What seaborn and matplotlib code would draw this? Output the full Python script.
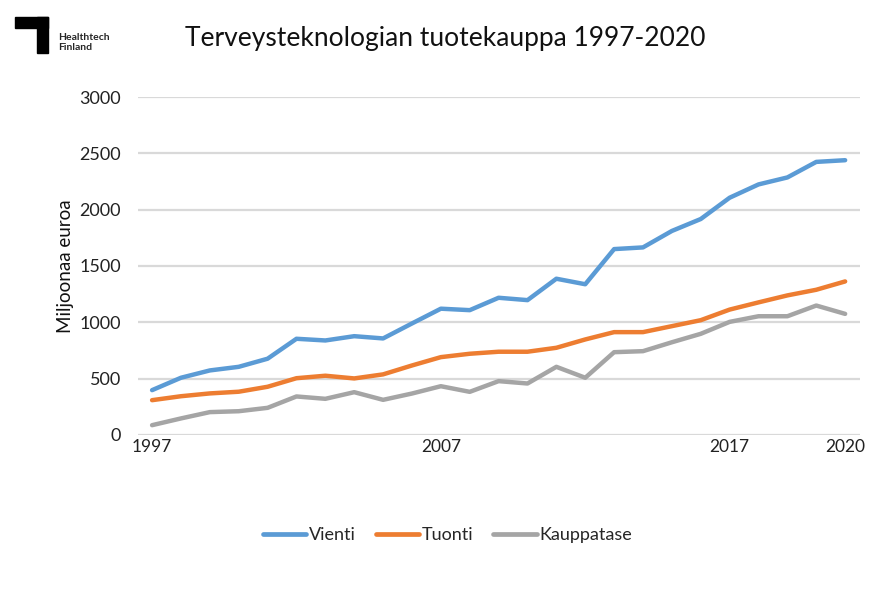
import matplotlib
matplotlib.use("Agg")
from matplotlib import pyplot as plt
from matplotlib import patches
import pandas as pd
import seaborn as sns

# values (million euros)
vuosi_idx = list(range(25))
vienti = [398, 508, 573, 605, 677, 854, 839, 877, 857, 990, 1121, 1108, 1218,
          1197, 1387, 1338, 1650, 1665, 1811, 1917, 2106, 2224, 2286, 2424, 2439]
tuonti = [309, 344, 369, 384, 428, 504, 526, 502, 538, 617, 691, 721, 739,
          739, 774, 848, 913, 913, 966, 1019, 1113, 1177, 1239, 1289, 1363]
kauppatase = [87, 147, 203, 211, 241, 342, 321, 380, 312, 368, 433, 383, 478,
              457, 605, 508, 735, 744, 823, 898, 1004, 1054, 1054, 1149, 1075]
tick_pos = [0, 10, 20, 24]
tick_labels = ['1997', '2007', '2017', '2020']
sarjat = ['Vienti', 'Tuonti', 'Kauppatase']
varit = ['#5B9BD5', '#ED7D31', '#A5A5A5']

df = pd.DataFrame({'x': vuosi_idx * 3,
                   'arvo': vienti + tuonti + kauppatase,
                   'sarja': [s for s in sarjat for _ in vuosi_idx]})

sns.set_style('white')
plt.rcParams['font.family'] = ['Lato', 'DejaVu Sans']

fig = plt.figure(figsize=(8.88, 5.94), dpi=100)
ax = fig.add_axes([0.155, 0.2677, 0.813, 0.569])

sns.lineplot(data=df, x='x', y='arvo', hue='sarja', hue_order=sarjat,
             palette=varit, linewidth=3.2, ax=ax, legend=False)

ax.set_xlim(-0.5, 24.5)
ax.set_ylim(0, 3000)
ax.set_yticks(range(0, 3001, 500))
ax.set_xticks(tick_pos)
ax.set_xticklabels(tick_labels)
ax.tick_params(axis='y', length=0, labelsize=13, colors='#222222', pad=12)
ax.tick_params(axis='x', length=0, labelsize=12.5, colors='#222222', pad=3)
ax.grid(axis='y', color='#D9D9D9', linewidth=1.6)
ax.set_axisbelow(True)
for s in ax.spines.values():
    s.set_visible(False)
ax.set_xlabel('')
ax.set_ylabel('Miljoonaa euroa', fontsize=13.5, color='#111111', labelpad=4)

# legend under the plot
handles = [plt.Line2D([], [], color=c, linewidth=3.4, solid_capstyle='round') for c in varit]
fig.legend(handles, sarjat, loc='center', bbox_to_anchor=(0.504, 0.099), ncol=3,
           frameon=False, fontsize=13, handlelength=2.4, handletextpad=0.15,
           columnspacing=1.1)

fig.text(0.208, 0.935, 'Terveysteknologian tuotekauppa 1997-2020', fontsize=19,
         ha='left', va='center', color='#111111')

# Healthtech Finland logo
fig.patches.append(patches.Rectangle((15 / 888, 1 - 28 / 594), 33 / 888, 11 / 594,
                                     transform=fig.transFigure, color='black'))
fig.patches.append(patches.Rectangle((37 / 888, 1 - 53 / 594), 11 / 888, 36 / 594,
                                     transform=fig.transFigure, color='black'))
fig.text(58 / 888, 1 - 37 / 594, 'Healthtech', fontsize=7.5, fontweight='bold',
         va='center', ha='left')
fig.text(58 / 888, 1 - 48 / 594, 'Finland', fontsize=7.5, fontweight='bold',
         va='center', ha='left')

fig.savefig('out.png', dpi=100)
